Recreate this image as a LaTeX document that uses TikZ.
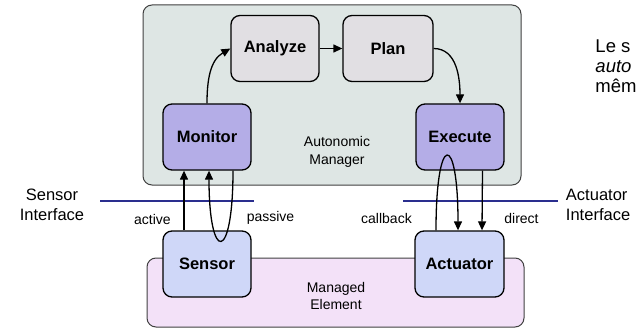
\documentclass[tikz,border=0pt]{standalone}
\usepackage{fontspec}
\setmainfont{Liberation Sans}
\usepackage{xcolor}
\usepackage{tikz}
\usetikzlibrary{arrows.meta}

\definecolor{mgrfill}{HTML}{DEE6E4}
\definecolor{elemfill}{HTML}{F3E1F8}
\definecolor{loopfill}{HTML}{E1DFE3}
\definecolor{endfill}{HTML}{B4ADE7}
\definecolor{touchfill}{HTML}{CFD7F8}
\definecolor{ifaceblue}{HTML}{2A2E8E}

\begin{document}
\begin{tikzpicture}[x=1pt, y=1pt, >={Triangle[length=9pt,width=8pt]}, line width=1.3pt,
    every node/.style={font=\fontsize{14}{17.5}\selectfont},
    area/.style={rectangle, rounded corners=9pt, draw=black!75, line width=1pt},
    task/.style={rectangle, rounded corners=9pt, draw=black, line width=1.3pt, minimum width=88pt, minimum height=66pt, font=\bfseries\fontsize{16.5}{20}\selectfont},
    big/.style={font=\fontsize{16.5}{20}\selectfont},
    iface/.style={draw=ifaceblue, line width=2.2pt}]
    \useasboundingbox (0,0) rectangle (638,-329);

    \node (manager) [area, fill=mgrfill, minimum width=378pt, minimum height=180pt] at (332,-95) {};
    \node (managed) [area, fill=elemfill, minimum width=377pt, minimum height=69pt] at (335.5,-292.5) {};
    \node (mgrlabel) [align=center] at (337,-152) {Autonomic\\Manager};
    \node (elemlabel) [align=center] at (336,-296) {Managed\\Element};

    \node (analyze) [task, fill=loopfill] at (275,-48.5) {Analyze};
    \node (plan) [task, fill=loopfill, minimum width=90pt] at (388,-48.5) {Plan};
    \node (monitor) [task, fill=endfill] at (207,-137) {Monitor};
    \node (execute) [task, fill=endfill] at (460,-137) {Execute};
    \node (sensor) [task, fill=touchfill] at (207,-264) {Sensor};
    \node (actuator) [task, fill=touchfill, minimum width=89pt] at (459.5,-264) {Actuator};

    \draw[iface] (100,-201) -- (254,-201);
    \draw[iface] (403,-201) -- (558,-201);
    \node (sensoriface) [big, align=center] at (52,-205) {Sensor\\Interface};
    \node (actiface) [big, align=left, anchor=west] at (562,-205) {Actuator\\Interface};

    \draw[->] (monitor.north) to[out=90, in=210] (analyze.west);
    \draw[->] (analyze) -- (plan);
    \draw[->] (plan.east) to[out=0, in=90] (execute.north);

    \draw[->] ([xshift=-23pt]sensor.north) -- ([xshift=-23pt]monitor.south);
    \draw[->] ([xshift=26pt]monitor.south) to[out=-90, in=-90, distance=93pt] ([xshift=2pt]monitor.south);
    \draw[->] ([xshift=-23.5pt]actuator.north) to[out=90, in=90, distance=99pt] ([xshift=-1.5pt]actuator.north);
    \draw[->] ([xshift=22.5pt]execute.south) -- ([xshift=22.5pt]actuator.north);

    \node (active) at (152.5,-219) {active};
    \node (passive) at (270.5,-218) {passive};
    \node (callback) at (386.5,-218) {callback};
    \node (direct) at (521.5,-218) {direct};

    \node (sidetext) [font=\fontsize{18.5}{20}\selectfont, align=left, anchor=west] at (591.5,-66) {Le s\\\textit{auto}\\mêm};
\end{tikzpicture}
\end{document}
